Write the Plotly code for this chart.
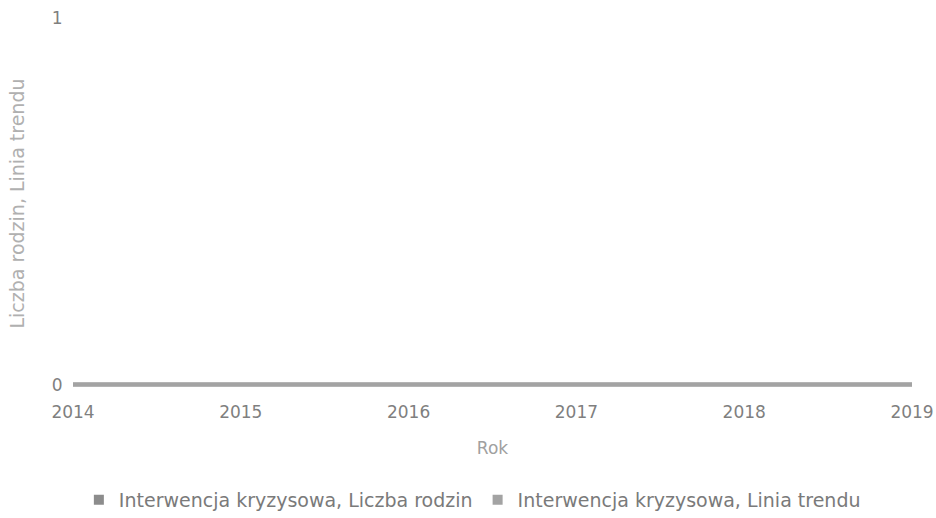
import plotly.graph_objects as go

years = [2014, 2015, 2016, 2017, 2018, 2019]
liczba_rodzin = [0, 0, 0, 0, 0, 0]
linia_trendu = [0, 0, 0, 0, 0, 0]
series_names = ["Interwencja kryzysowa, Liczba rodzin", "Interwencja kryzysowa, Linia trendu"]
series_colors = ["#8c8c8c", "#a3a3a3"]

fig = go.Figure()
for vals, name, col in zip([liczba_rodzin, linia_trendu], series_names, series_colors):
    fig.add_trace(go.Scatter(x=years, y=vals, mode="lines", name=name,
                             line=dict(color=col, width=4), showlegend=False))
    fig.add_trace(go.Scatter(x=[None], y=[None], mode="markers", name=name,
                             marker=dict(symbol="square", size=10, color=col)))

fam = "DejaVu Sans"
fig.update_layout(
    width=936, height=518,
    margin=dict(l=73, r=24, t=18, b=129, autoexpand=False),
    paper_bgcolor="white", plot_bgcolor="white",
    font=dict(family=fam, color="#8a8a8a", size=17),
    showlegend=True,
    legend=dict(orientation="h", x=0.476, xanchor="center", y=-0.299, yanchor="middle",
                font=dict(size=19, color="#7a7a7a", family=fam),
                itemwidth=30, tracegroupgap=0),
    xaxis=dict(range=[2014, 2019], tickvals=years, ticktext=[str(y) for y in years],
               showgrid=False, zeroline=False, showline=False,
               ticks="outside", ticklen=8, tickcolor="rgba(0,0,0,0)",
               ticklabeloverflow="allow",
               title=dict(text="Rok", standoff=20, font=dict(size=17, color="#a0a0a0", family=fam)),
               tickfont=dict(size=17, color="#7f7f7f", family=fam)),
    yaxis=dict(range=[-0.012, 1], tickvals=[0, 1], showgrid=False, zeroline=False, showline=False,
               ticks="outside", ticklen=6, tickcolor="rgba(0,0,0,0)",
               ticklabeloverflow="allow",
               title=dict(text="Liczba rodzin, Linia trendu", standoff=22,
                          font=dict(size=19, color="#b0b0b0", family=fam)),
               tickfont=dict(size=17, color="#7f7f7f", family=fam)),
)
fig.write_html("out.html", config={"displayModeBar": False},
               post_script="document.body.style.margin='0';document.body.style.overflow='hidden';")
